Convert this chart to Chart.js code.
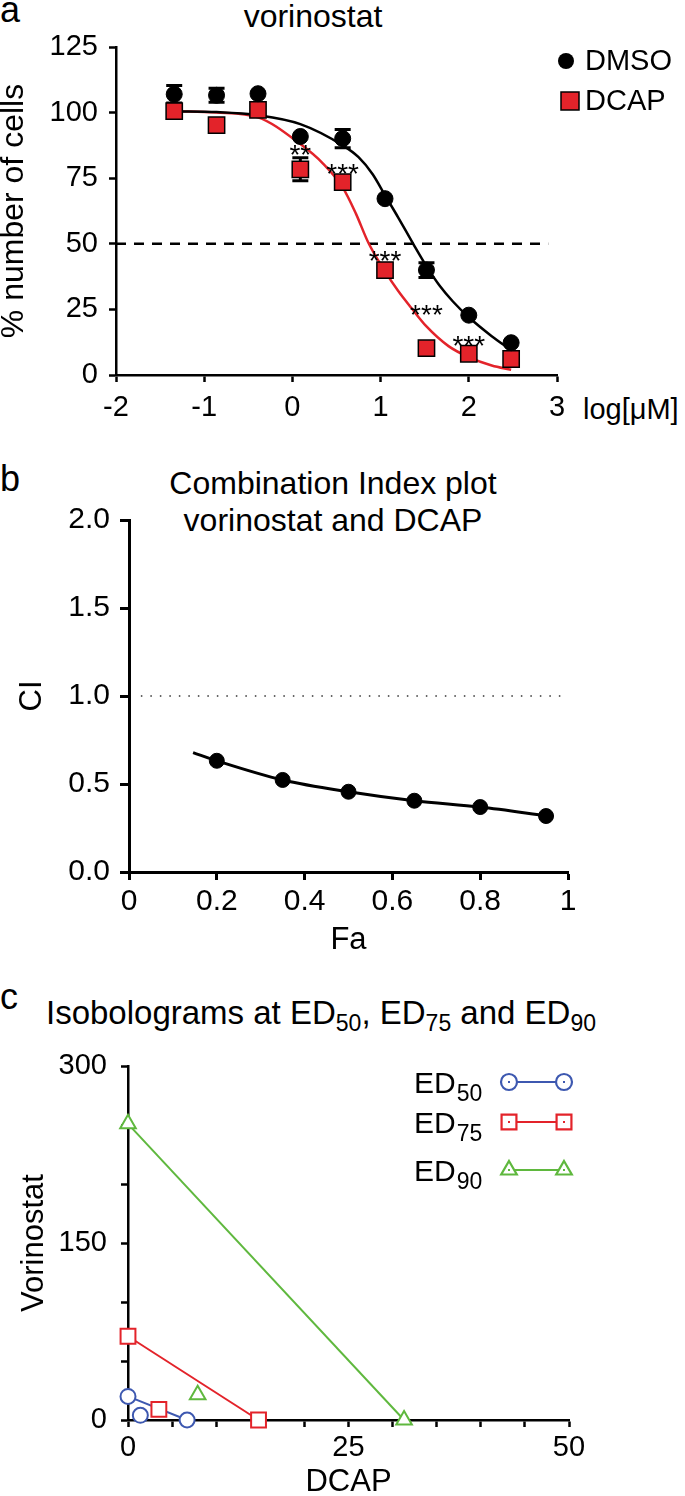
<!DOCTYPE html>
<html>
<head>
<meta charset="utf-8">
<script src="https://cdn.jsdelivr.net/npm/chart.js@4.4.1/dist/chart.umd.min.js"></script>
<style>
  body { margin: 0; background: #fff; width: 685px; height: 1496px; position: relative; overflow: hidden;
         font-family: "Liberation Sans", Arial, Helvetica, sans-serif; color: #000; }
  canvas { position: absolute; left: 0; }
  .txt { position: absolute; white-space: nowrap; }
  .sub { font-size: 23px; position: relative; top: 7px; }
</style>
</head>
<body>
<div class="txt" style="left:0;top:-8px;font-size:36px;line-height:36px">a</div>
<div class="txt" style="left:0;width:626px;text-align:center;top:0px;font-size:32px;line-height:32px">vorinostat</div>
<div class="txt" style="left:583px;top:395px;font-size:29px;line-height:29px">log[μM]</div>

<div class="txt" style="left:0;top:461px;font-size:36px;line-height:36px">b</div>
<div class="txt" style="left:0;width:666px;text-align:center;top:465px;font-size:32px;line-height:37px">Combination Index plot<br>vorinostat and DCAP</div>

<div class="txt" style="left:0;top:979px;font-size:36px;line-height:36px">c</div>
<div class="txt" style="left:46px;top:996px;font-size:33px;line-height:33px">Isobolograms at ED<span class="sub">50</span>, ED<span class="sub">75</span> and ED<span class="sub">90</span></div>

<canvas id="chartA" width="685" height="440" style="top:0"></canvas>
<canvas id="chartB" width="685" height="520" style="top:440px"></canvas>
<canvas id="chartC" width="685" height="570" style="top:940px"></canvas>

<script>
// ---- panel a: dose response ----
const logDose = [-1.34, -0.86, -0.39, 0.09, 0.57, 1.05, 1.52, 2.0, 2.48];
const dmsoMean = [107, 106.6, 107.2, 90.9, 90.1, 67.2, 40, 22.8, 12.3];
const dmsoErr = [3.3, 2.7, 0, 0, 3.5, 0, 2.8, 0, 0];
const dcapMean = [100.6, 95.2, 101, 78.4, 73.5, 40, 10.2, 8.1, 6.1];
const dcapErr = [0, 0, 0, 4.4, 0, 0, 0, 0, 0];

const dmsoFitX = [-1.34, -0.86, -0.39, 0.09, 0.57, 0.75, 0.91, 1.05, 1.2, 1.37, 1.52, 1.67, 1.82, 2.0, 2.26, 2.48];
const dmsoFitY = [100.5, 100.2, 99, 95.6, 87.5, 83, 76.5, 68.5, 60, 50, 41.5, 34, 28, 22, 14.8, 9.5];
const dcapFitX = [-1.34, -0.86, -0.39, 0.09, 0.35, 0.57, 0.72, 0.86, 1.05, 1.2, 1.35, 1.52, 1.77, 2.0, 2.26, 2.48];
const dcapFitY = [100.5, 100, 98.2, 88, 80.5, 71.5, 61.5, 50.5, 39.5, 32, 25.5, 18.5, 11, 6.8, 3.6, 2];

const starX = [0.09, 0.57, 1.05, 1.52, 2.0];
const starY = [86.3, 79, 45.6, 25, 13.2];
const starText = ['**', '***', '***', '***', '***'];
const halfLine = [-2, 2.9];

const xTicksA = [-2, -1, 0, 1, 2, 3];
const yTicksA = [0, 25, 50, 75, 100, 125];

// ---- panel b: combination index ----
const faPts = [0.2, 0.35, 0.5, 0.65, 0.8, 0.95];
const ciPts = [0.632, 0.523, 0.456, 0.405, 0.369, 0.318];
const faFit = [0.146, 0.2, 0.35, 0.5, 0.65, 0.8, 0.955];
const ciFit = [0.678, 0.632, 0.523, 0.456, 0.405, 0.369, 0.318];
const ciRef = [0.027, 1.0];

// ---- panel c: isobolograms ----
const ed50X = [0, 6.7], ed50Y = [20, 0];
const ed75X = [0, 14.8], ed75Y = [71, 0];
const ed90X = [0, 31.3], ed90Y = [251, 0];
const combX = [1.4, 3.5, 7.9];
const combY = [4, 9, 21.5];

const FONT = '"Liberation Sans", Arial, Helvetica, sans-serif';
Chart.defaults.font.family = FONT;
Chart.defaults.color = '#000';

const RED = '#e3232a';
const BLUE = '#3d58b0';
const GREEN = '#5fb83e';

const pts = (xs, ys) => xs.map((v, i) => ({ x: v, y: ys[i] }));

function axis(min, max, opts) {
  return Object.assign({
    type: 'linear', min: min, max: max,
    grid: { display: true, drawOnChartArea: false, drawTicks: true, tickLength: 7, tickWidth: 2.5, tickColor: '#000' },
    border: { display: true, color: '#000', width: 2.5 }
  }, opts);
}

// panel a
const errorBars = {
  id: 'errorBars',
  beforeDatasetsDraw(chart) {
    const { ctx, scales: { x, y } } = chart;
    ctx.save();
    ctx.strokeStyle = '#000';
    ctx.lineWidth = 3;
    [[dmsoMean, dmsoErr], [dcapMean, dcapErr]].forEach(([m, e]) => {
      logDose.forEach((d, i) => {
        if (!e[i]) return;
        const px = x.getPixelForValue(d);
        const top = y.getPixelForValue(m[i] + e[i]);
        const bot = y.getPixelForValue(m[i] - e[i]);
        ctx.beginPath();
        ctx.moveTo(px, top); ctx.lineTo(px, bot);
        ctx.moveTo(px - 8, top); ctx.lineTo(px + 8, top);
        ctx.moveTo(px - 8, bot); ctx.lineTo(px + 8, bot);
        ctx.stroke();
      });
    });
    ctx.restore();
  },
  afterDatasetsDraw(chart) {
    const { ctx, scales: { x, y } } = chart;
    ctx.save();
    ctx.fillStyle = '#000';
    ctx.font = '28px ' + FONT;
    ctx.textAlign = 'center';
    ctx.textBaseline = 'alphabetic';
    starX.forEach((d, i) => {
      ctx.fillText(starText[i], x.getPixelForValue(d), y.getPixelForValue(starY[i]) + 15);
    });
    // legend
    ctx.beginPath();
    ctx.arc(566, 61, 8, 0, Math.PI * 2);
    ctx.fill();
    ctx.fillStyle = RED;
    ctx.fillRect(561, 92, 18, 18);
    ctx.lineWidth = 1.5;
    ctx.strokeStyle = '#000';
    ctx.strokeRect(561, 92, 18, 18);
    ctx.fillStyle = '#000';
    ctx.font = '29px ' + FONT;
    ctx.textAlign = 'left';
    ctx.textBaseline = 'middle';
    ctx.fillText('DMSO', 585, 62);
    ctx.fillText('DCAP', 585, 102);
    ctx.restore();
  }
};

new Chart(document.getElementById('chartA'), {
  type: 'scatter',
  data: {
    datasets: [
      { data: pts(logDose, dmsoMean), pointStyle: 'circle', pointRadius: 8, backgroundColor: '#000', borderColor: '#000', order: 0 },
      { data: pts(logDose, dcapMean), pointStyle: 'rect', pointRadius: 11.5, backgroundColor: RED, borderColor: '#000', borderWidth: 1.5, order: 0 },
      { data: pts(dmsoFitX, dmsoFitY), showLine: true, borderColor: '#000', borderWidth: 2.5, pointRadius: 0, cubicInterpolationMode: 'monotone', order: 1 },
      { data: pts(dcapFitX, dcapFitY), showLine: true, borderColor: RED, borderWidth: 2.5, pointRadius: 0, cubicInterpolationMode: 'monotone', order: 1 },
      { data: pts(halfLine, [50, 50]), showLine: true, borderColor: '#000', borderWidth: 2.5, borderDash: [10, 8], pointRadius: 0, order: 2 }
    ]
  },
  options: {
    responsive: false,
    animation: false,
    layout: { padding: { left: 0, top: 47, right: 128, bottom: 15 } },
    plugins: { legend: { display: false }, tooltip: { enabled: false } },
    scales: {
      x: axis(-2, 3, {
        afterFit: s => { s.height = 50; },
        afterBuildTicks: s => { s.ticks = xTicksA.map(v => ({ value: v })); },
        ticks: { autoSkip: false, maxRotation: 0, padding: 9, font: { size: 29 }, color: '#000' }
      }),
      y: axis(0, 125, {
        afterFit: s => { s.width = 116; },
        afterBuildTicks: s => { s.ticks = yTicksA.map(v => ({ value: v })); },
        ticks: { autoSkip: false, padding: 11, font: { size: 29 }, color: '#000' },
        title: { display: true, text: '% number of cells', font: { size: 32 }, padding: { top: -5 } }
      })
    }
  },
  plugins: [errorBars]
});

// panel b
new Chart(document.getElementById('chartB'), {
  type: 'scatter',
  data: {
    datasets: [
      { data: pts(faPts, ciPts), pointStyle: 'circle', pointRadius: 7.5, backgroundColor: '#000', borderColor: '#000', order: 0 },
      { data: pts(faFit, ciFit), showLine: true, borderColor: '#000', borderWidth: 3, pointRadius: 0, cubicInterpolationMode: 'monotone', order: 1 },
      { data: pts(ciRef, [1, 1]), showLine: true, borderColor: '#333', borderWidth: 1.5, borderDash: [1.5, 8], pointRadius: 0, order: 2 }
    ]
  },
  options: {
    responsive: false,
    animation: false,
    layout: { padding: { left: 0, top: 80, right: 117, bottom: 1 } },
    plugins: { legend: { display: false }, tooltip: { enabled: false } },
    scales: {
      x: axis(0, 1, {
        grid: { display: true, drawOnChartArea: false, drawTicks: true, tickLength: 8, tickWidth: 3, tickColor: '#000' },
        border: { display: true, color: '#000', width: 3 },
        afterFit: s => { s.height = 87; },
        ticks: { stepSize: 0.2, autoSkip: false, maxRotation: 0, padding: 4, font: { size: 30 }, color: '#000',
                 callback: v => String(+v.toFixed(1)) },
        title: { display: true, text: 'Fa', font: { size: 31 }, padding: 0 }
      }),
      y: axis(0, 2, {
        grid: { display: true, drawOnChartArea: false, drawTicks: true, tickLength: 9, tickWidth: 3, tickColor: '#000' },
        border: { display: true, color: '#000', width: 3 },
        afterFit: s => { s.width = 129; },
        ticks: { stepSize: 0.5, autoSkip: false, padding: 10, font: { size: 30 }, color: '#000',
                 callback: v => v.toFixed(1) },
        title: { display: true, text: 'CI', font: { size: 31 }, padding: { top: 14 } }
      })
    }
  }
});

// panel c
const isoLegend = {
  id: 'isoLegend',
  afterDatasetsDraw(chart) {
    const ctx = chart.ctx;
    const rows = [
      { sub: '50', color: BLUE, style: 'circle', r: 8, y: 142 },
      { sub: '75', color: RED, style: 'rect', r: 10.5, y: 182 },
      { sub: '90', color: GREEN, style: 'triangle', r: 9, y: 230 }
    ];
    ctx.save();
    rows.forEach(row => {
      ctx.fillStyle = '#000';
      ctx.textAlign = 'left';
      ctx.textBaseline = 'alphabetic';
      ctx.font = '30px ' + FONT;
      ctx.fillText('ED', 414, row.y + 11);
      const w = ctx.measureText('ED').width;
      ctx.font = '23px ' + FONT;
      ctx.fillText(row.sub, 414 + w + 1, row.y + 19);
      ctx.strokeStyle = row.color;
      ctx.lineWidth = 1.8;
      ctx.beginPath();
      ctx.moveTo(509, row.y); ctx.lineTo(564, row.y);
      ctx.stroke();
      [509, 564].forEach(mx => {
        ctx.fillStyle = '#fff';
        ctx.lineWidth = 2.2;
        Chart.helpers.drawPoint(ctx, { pointStyle: row.style, radius: row.r, borderWidth: 2.2, rotation: 0 }, mx, row.y);
        ctx.fillStyle = row.color;
        ctx.fillRect(mx - 1, row.y - 1, 2, 2);
      });
    });
    ctx.restore();
  }
};

const isoLine = (xs, ys, color, style, r) => ({
  data: pts(xs, ys), showLine: true, borderColor: color, borderWidth: 2, pointStyle: style, pointRadius: r,
  pointBorderWidth: 2, pointBackgroundColor: '#fff', pointBorderColor: color, order: 1
});
const combPoint = (i, color, style, r) => ({
  data: [{ x: combX[i], y: combY[i] }], showLine: false, pointStyle: style, pointRadius: r,
  pointBorderWidth: 2, pointBackgroundColor: '#fff', pointBorderColor: color, order: 0
});

new Chart(document.getElementById('chartC'), {
  type: 'scatter',
  data: {
    datasets: [
      isoLine(ed50X, ed50Y, BLUE, 'circle', 7.5),
      isoLine(ed75X, ed75Y, RED, 'rect', 10.5),
      isoLine(ed90X, ed90Y, GREEN, 'triangle', 9),
      combPoint(0, BLUE, 'circle', 7.5),
      combPoint(1, RED, 'rect', 10.5),
      combPoint(2, GREEN, 'triangle', 9)
    ]
  },
  options: {
    responsive: false,
    animation: false,
    clip: false,
    layout: { padding: { left: 0, top: 126, right: 116, bottom: 9 } },
    plugins: { legend: { display: false }, tooltip: { enabled: false } },
    scales: {
      x: axis(0, 50, {
        afterFit: s => { s.height = 81; },
        ticks: { stepSize: 5, autoSkip: false, maxRotation: 0, padding: 4, font: { size: 29 }, color: '#000',
                 callback: v => (v % 25 === 0 ? String(v) : '') },
        title: { display: true, text: 'DCAP', font: { size: 31 }, padding: 0 }
      }),
      y: axis(0, 300, {
        afterFit: s => { s.width = 128; },
        ticks: { stepSize: 50, autoSkip: false, padding: 14, font: { size: 29 }, color: '#000',
                 callback: v => (v % 150 === 0 ? String(v) : '') },
        title: { display: true, text: 'Vorinostat', font: { size: 31 }, padding: { top: 16 } }
      })
    }
  },
  plugins: [isoLegend]
});
</script>
</body>
</html>
